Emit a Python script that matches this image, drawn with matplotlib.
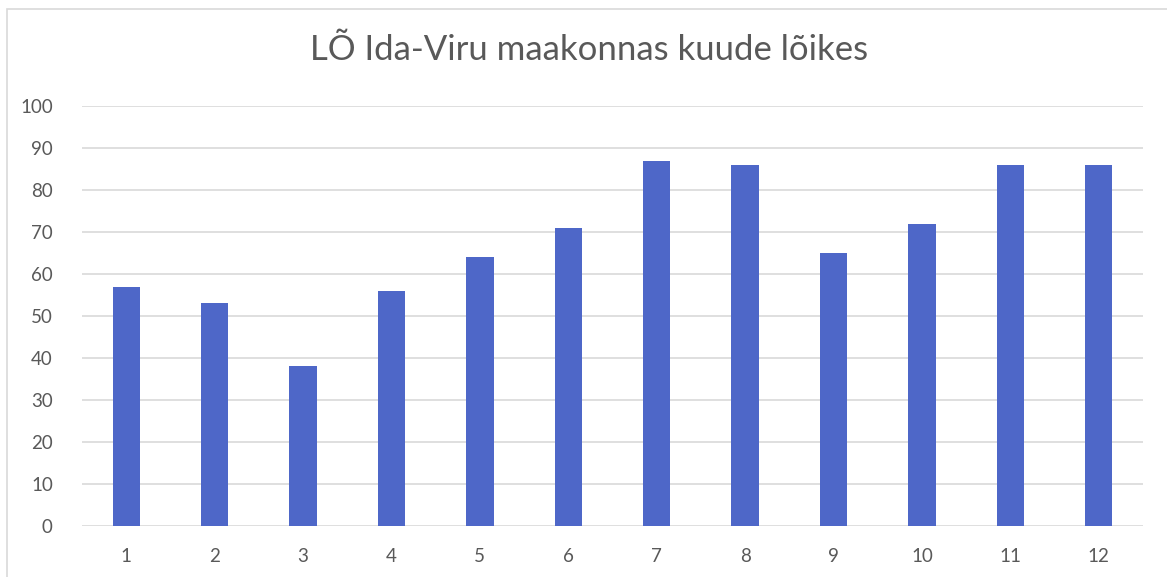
import matplotlib
matplotlib.use("Agg")
import matplotlib.pyplot as plt
from matplotlib.patches import Rectangle

months = ["1", "2", "3", "4", "5", "6", "7", "8", "9", "10", "11", "12"]
values = [57, 53, 38, 56, 64, 71, 87, 86, 65, 72, 86, 86]
yticks = [0, 10, 20, 30, 40, 50, 60, 70, 80, 90, 100]
title = "LÕ Ida-Viru maakonnas kuude lõikes"

plt.rcParams['font.family'] = ['Lato', 'DejaVu Sans']
text_color = "#595959"
grid_color = "#d9d9d9"
bar_color = "#4e67c8"

W, H = 1167, 577
fig = plt.figure(figsize=(W / 100, H / 100), dpi=100)
fig.patch.set_facecolor("white")

# outer chart border
fig.patches.append(Rectangle((7 / W, -0.1), 1.2, 1 - 9 / H + 0.1, transform=fig.transFigure,
                             fill=False, edgecolor=grid_color, linewidth=1.2))

ax = fig.add_axes([82 / W, 1 - 526 / H, (1143 - 82) / W, (526 - 106) / H])
x = list(range(1, len(months) + 1))
ax.bar(x, values, width=0.31, color=bar_color, zorder=3)
ax.set_xlim(0.5, 12.5)
ax.set_ylim(0, 100)
ax.set_yticks(yticks)
ax.set_xticks(x)
ax.set_xticklabels(months)
ax.grid(axis="y", color=grid_color, linewidth=1.2, zorder=0)
for s in ax.spines.values():
    s.set_visible(False)
ax.tick_params(axis="both", length=0, labelsize=13.5, colors=text_color)
ax.tick_params(axis="x", pad=16)
ax.tick_params(axis="y", pad=21)

fig.text(589 / W, 1 - 50 / H, title, ha="center", va="center", fontsize=25, color=text_color)

fig.savefig("out.png", dpi=100)
